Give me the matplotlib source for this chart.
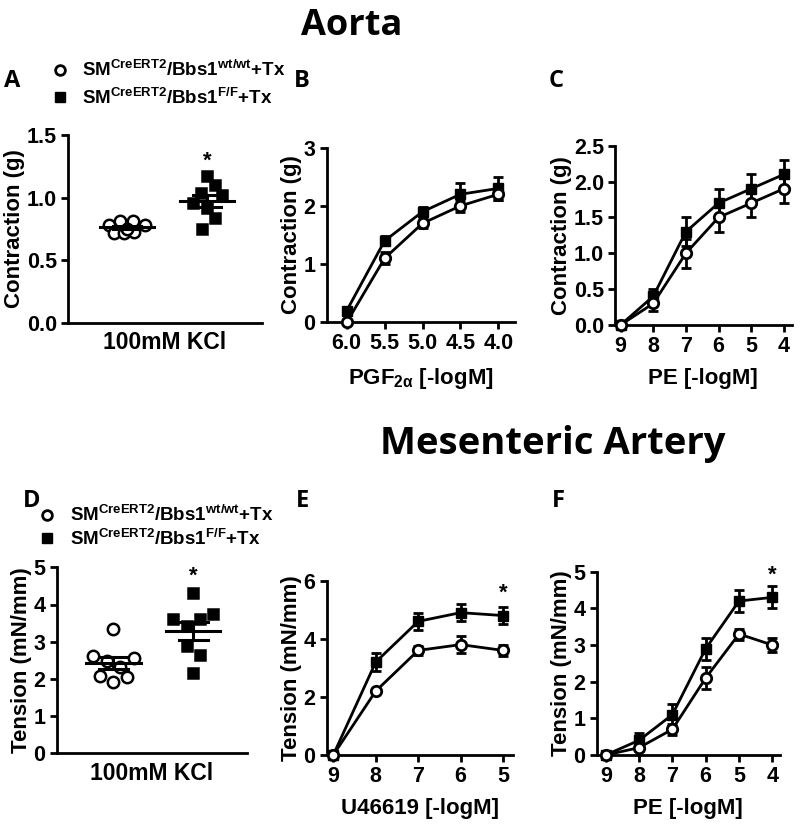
import numpy as np
import matplotlib
matplotlib.use("Agg")
import matplotlib.pyplot as plt
from matplotlib.lines import Line2D

plt.rcParams['font.family'] = ['Liberation Sans', 'DejaVu Sans']
plt.rcParams['font.weight'] = 'bold'
plt.rcParams['axes.labelweight'] = 'bold'
plt.rcParams['mathtext.fontset'] = 'custom'
plt.rcParams['mathtext.rm'] = 'Liberation Sans:bold'
plt.rcParams['mathtext.it'] = 'Liberation Sans:bold'
plt.rcParams['mathtext.bf'] = 'Liberation Sans:bold'

# A: aorta, 100mM KCl (g)
a_wt = [0.78, 0.81, 0.81, 0.78, 0.72, 0.72, 0.73, 0.75]
a_wt_jit = [-0.23, -0.09, 0.07, 0.22, -0.17, -0.04, 0.09, 0.0]
a_ff = [1.17, 1.10, 1.04, 1.02, 0.955, 0.915, 0.835, 0.75]
a_ff_jit = [0.0, 0.1, -0.08, 0.19, -0.17, 0.0, 0.1, -0.06]

# B: aorta, PGF2a
b_dose = [6.0, 5.5, 5.0, 4.5, 4.0]
b_wt = [0.0, 1.1, 1.7, 2.0, 2.2]
b_wt_err = [0.03, 0.1, 0.08, 0.1, 0.1]
b_ff = [0.2, 1.4, 1.9, 2.2, 2.3]
b_ff_err = [0.07, 0.08, 0.08, 0.2, 0.2]

# C: aorta, PE
c_dose = [9, 8, 7, 6, 5, 4]
c_wt = [0.0, 0.3, 1.0, 1.5, 1.7, 1.9]
c_wt_err = [0.02, 0.1, 0.2, 0.2, 0.2, 0.2]
c_ff = [0.0, 0.4, 1.3, 1.7, 1.9, 2.1]
c_ff_err = [0.02, 0.1, 0.2, 0.2, 0.2, 0.2]

# D: mesenteric, 100mM KCl (mN/mm)
d_wt = [3.34, 2.62, 2.49, 2.56, 2.31, 2.09, 2.04, 1.91]
d_wt_jit = [0.0, -0.26, -0.08, 0.26, 0.08, -0.17, 0.175, 0.0]
d_ff = [4.30, 3.61, 3.61, 3.74, 3.43, 2.88, 2.64, 2.17]
d_ff_jit = [0.0, -0.25, 0.08, 0.25, -0.08, -0.08, 0.09, 0.0]

# E: mesenteric, U46619
e_dose = [9, 8, 7, 6, 5]
e_wt = [0.0, 2.2, 3.6, 3.8, 3.6]
e_wt_err = [0.05, 0.08, 0.15, 0.3, 0.2]
e_ff = [0.0, 3.2, 4.6, 4.9, 4.8]
e_ff_err = [0.05, 0.3, 0.3, 0.3, 0.3]

# F: mesenteric, PE
f_dose = [9, 8, 7, 6, 5, 4]
f_wt = [0.0, 0.2, 0.7, 2.1, 3.3, 3.0]
f_wt_err = [0.02, 0.1, 0.15, 0.3, 0.15, 0.2]
f_ff = [0.0, 0.4, 1.1, 2.9, 4.2, 4.3]
f_ff_err = [0.02, 0.2, 0.3, 0.3, 0.3, 0.3]

lbl_wt = r"SM$^{CreERT2}$/Bbs1$^{wt/wt}$+Tx"
lbl_ff = r"SM$^{CreERT2}$/Bbs1$^{F/F}$+Tx"

W, H = 800, 827
fig = plt.figure(figsize=(8, 8.27), dpi=100)


def px_axes(l, t, r, b):
    return fig.add_axes([l / W, 1 - b / H, (r - l) / W, (b - t) / H])


def style(ax):
    ax.spines['top'].set_visible(False)
    ax.spines['right'].set_visible(False)
    ax.spines['left'].set_linewidth(2)
    ax.spines['bottom'].set_linewidth(2)
    ax.tick_params(width=2, length=5, labelsize=15.5, pad=3)


def scatter_panel(ax, wt, wt_jit, ff, ff_jit, xlim, ylim, yticks, ylabel):
    style(ax)
    for i, (vals, jit, mk, fc, ms) in enumerate([(wt, wt_jit, 'o', 'white', 8.2),
                                                 (ff, ff_jit, 's', 'black', 7.0)]):
        x = i + np.array(jit)
        ax.plot(x, vals, linestyle='none', marker=mk, mfc=fc, mec='black',
                mew=1.8, ms=ms, zorder=3, clip_on=False)
        m = np.mean(vals)
        s = np.std(vals, ddof=1) / np.sqrt(len(vals))
        ax.plot([i - 0.34, i + 0.34], [m, m], color='black', lw=2.2, zorder=4)
        ax.plot([i - 0.18, i + 0.18], [m - s, m - s], color='black', lw=2.2, zorder=4)
        ax.plot([i - 0.18, i + 0.18], [m + s, m + s], color='black', lw=2.2, zorder=4)
        ax.plot([i, i], [m - s, m + s], color='black', lw=2.2, zorder=4)
    ax.set_xlim(*xlim)
    ax.set_ylim(*ylim)
    ax.set_yticks(yticks)
    ax.tick_params(axis='x', bottom=False, labelbottom=False)
    ax.set_xlabel('100mM KCl', fontsize=16.5, labelpad=6)
    ax.set_ylabel(ylabel, fontsize=16, labelpad=1)


def curve_panel(ax, dose, wt, wt_err, ff, ff_err, xlim, ylim, yticks, xlabel, ylabel):
    style(ax)
    ax.errorbar(dose, ff, yerr=ff_err, color='black', lw=2, marker='s', ms=6.5,
                mfc='black', mec='black', capsize=3.5, capthick=2, elinewidth=2,
                zorder=3, clip_on=False)
    ax.errorbar(dose, wt, yerr=wt_err, color='black', lw=2, marker='o', ms=7.5,
                mfc='white', mec='black', mew=2, capsize=3.5, capthick=2,
                elinewidth=2, zorder=4, clip_on=False)
    ax.set_xlim(*xlim)
    ax.set_ylim(*ylim)
    ax.set_xticks(dose)
    ax.set_yticks(yticks)
    ax.set_xlabel(xlabel, fontsize=16, labelpad=8)
    ax.set_ylabel(ylabel, fontsize=16, labelpad=1)


ax_a = px_axes(68, 135, 262, 323)
scatter_panel(ax_a, a_wt, a_wt_jit, a_ff, a_ff_jit, (-0.74, 1.69), (0, 1.5),
              [0, 0.5, 1.0, 1.5], 'Contraction (g)')
ax_a.text(1, 1.29, '*', ha='center', va='center', fontsize=16)

ax_b = px_axes(326.7, 147.7, 515, 322.3)
curve_panel(ax_b, b_dose, b_wt, b_wt_err, b_ff, b_ff_err, (6.264, 3.78), (0, 3),
            [0, 1, 2, 3], r'PGF$_{2α}$ [-logM]', 'Contraction (g)')

ax_c = px_axes(615, 145.7, 791.7, 325)
curve_panel(ax_c, c_dose, c_wt, c_wt_err, c_ff, c_ff_err, (9.17, 3.76), (0, 2.5),
            [0, 0.5, 1.0, 1.5, 2.0, 2.5], 'PE [-logM]', 'Contraction (g)')

ax_d = px_axes(56.7, 567.3, 246.7, 753.3)
scatter_panel(ax_d, d_wt, d_wt_jit, d_ff, d_ff_jit, (-0.71, 1.67), (0, 5),
              [0, 1, 2, 3, 4, 5], 'Tension (mN/mm)')
ax_d.text(1, 4.77, '*', ha='center', va='center', fontsize=16)

ax_e = px_axes(326.7, 580.7, 513.3, 755)
curve_panel(ax_e, e_dose, e_wt, e_wt_err, e_ff, e_ff_err, (9.155, 4.76), (0, 6),
            [0, 2, 4, 6], 'U46619 [-logM]', 'Tension (mN/mm)')
ax_e.text(5, 5.58, '*', ha='center', va='center', fontsize=16)

ax_f = px_axes(596.7, 571.7, 780, 755)
curve_panel(ax_f, f_dose, f_wt, f_wt_err, f_ff, f_ff_err, (9.27, 3.77), (0, 5),
            [0, 1, 2, 3, 4, 5], 'PE [-logM]', 'Tension (mN/mm)')
ax_f.text(4, 4.91, '*', ha='center', va='center', fontsize=16)

handles = [Line2D([], [], linestyle='none', marker='o', mfc='white', mec='black', mew=2, ms=7),
           Line2D([], [], linestyle='none', marker='s', mfc='black', mec='black', ms=6.5)]
ax_a.legend(handles, [lbl_wt, lbl_ff], loc='upper left', bbox_to_anchor=(52.5 / W, 1 - 60 / H),
            bbox_transform=fig.transFigure, frameon=False, fontsize=13.5, borderpad=0,
            borderaxespad=0, handlelength=0.8, handletextpad=0.75, labelspacing=0.4)
ax_d.legend(handles, [lbl_wt, lbl_ff], loc='upper left', bbox_to_anchor=(39.2 / W, 1 - 505 / H),
            bbox_transform=fig.transFigure, frameon=False, fontsize=13.5, borderpad=0,
            borderaxespad=0, handlelength=0.8, handletextpad=0.84, labelspacing=0.2)

title_font = dict(family=['Open Sans', 'DejaVu Sans'], weight='bold')
fig.text(352 / W, 1 - 35 / H, 'Aorta', ha='center', va='baseline', fontsize=26, **title_font)
fig.text(553 / W, 1 - 454 / H, 'Mesenteric Artery', ha='center', va='baseline', fontsize=27.5,
         **title_font)

for letter, x, y in [('A', 12, 87), ('B', 302, 87), ('C', 556, 87),
                     ('D', 32, 507), ('E', 303, 507), ('F', 558, 507)]:
    fig.text(x / W, 1 - y / H, letter, ha='center', va='baseline', fontsize=17, **title_font)

fig.savefig('out.png', dpi=100)
